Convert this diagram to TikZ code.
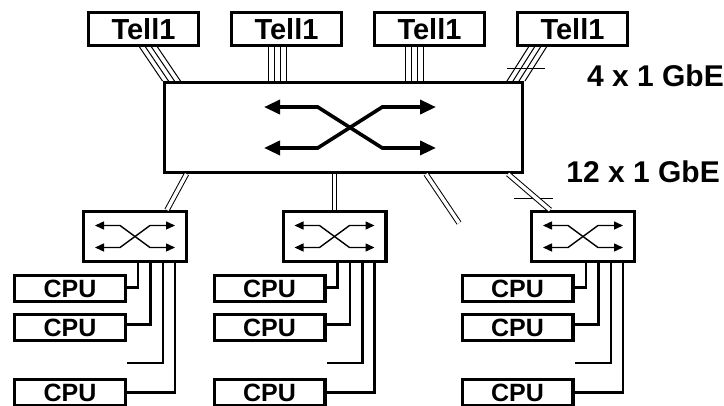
\documentclass[tikz,border=0pt]{standalone}
\usepackage{fontspec}
\setmainfont{Liberation Sans}
\usetikzlibrary{positioning,arrows.meta,calc}
\tikzset{
  tellbox/.style={draw, line width=3.4pt, minimum width=109.6pt, minimum height=32.6pt, inner sep=0pt, font=\fontsize{29}{29}\selectfont\bfseries},
  corebox/.style={draw, line width=3.4pt, minimum width=357.6pt, minimum height=89.6pt},
  swbox/.style={draw, line width=3.4pt, minimum width=102.6pt, minimum height=49.6pt},
  cpubox/.style={draw, line width=3.4pt, minimum width=110.6pt, minimum height=25.6pt, inner sep=0pt, font=\fontsize{25}{25}\selectfont\bfseries},
  gbelabel/.style={inner sep=0pt, font=\fontsize{30}{30}\selectfont\bfseries},
  fibre/.style={line width=1pt},
  uplink/.style={line width=1pt, double, double distance=3.5pt},
  cable/.style={line width=2.4pt},
  bigx/.style={<->, >={Triangle[length=16pt,width=14pt]}, line width=3.6pt},
  smallx/.style={<->, >={Triangle[length=9pt,width=8pt]}, line width=1.4pt}
}
\begin{document}
\begin{tikzpicture}[x=1pt, y=-1pt]
  \clip (0,0) rectangle (724,405);
  \useasboundingbox (0,0) rectangle (724,405);
  \node[tellbox] (tellA) at (143.5,29) {Tell1};
  \node[tellbox, right=30pt of tellA] (tellB) {Tell1};
  \node[tellbox, right=30pt of tellB] (tellC) {Tell1};
  \node[tellbox, right=30pt of tellC] (tellD) {Tell1};
  \node[corebox] (core) at (343.5,127.5) {};
  \node[swbox] (sw1) at (135,236.5) {};
  \node[swbox] (sw2) at (334.5,236.5) {};
  \node[swbox] (sw3) at (583,236.5) {};
  \node[cpubox] (cpuA1) at (70,288.5) {CPU};
  \node[cpubox, below=10pt of cpuA1] (cpuA2) {CPU};
  \node[cpubox, below=36pt of cpuA2] (cpuA4) {CPU};
  \node[cpubox] (cpuB1) at (269.5,288.5) {CPU};
  \node[cpubox, below=10pt of cpuB1] (cpuB2) {CPU};
  \node[cpubox, below=36pt of cpuB2] (cpuB4) {CPU};
  \node[cpubox] (cpuC1) at (517.5,288.5) {CPU};
  \node[cpubox, below=10pt of cpuC1] (cpuC2) {CPU};
  \node[cpubox, below=36pt of cpuC2] (cpuC4) {CPU};
  \node[gbelabel, anchor=east] (gbeTell) at (724,76) {4 x 1 GbE};
  \node[gbelabel, anchor=east] (gbeCpu) at (720,172) {12 x 1 GbE};
  \coordinate (open) at (459,223);
  \begin{scope}[shift={($(core.center)+(6.5,0)$)}, xscale=2.15, yscale=1.86]
    \draw[bigx] (-40,-11) -- (-15,-11) -- (15,11) -- (40,11);
    \draw[bigx] (-40,11) -- (-15,11) -- (15,-11) -- (40,-11);
  \end{scope}
  \foreach \s in {sw1,sw2,sw3} {
    \begin{scope}[shift={(\s.center)}]
      \draw[smallx] (-40,-11) -- (-15,-11) -- (15,11) -- (40,11);
      \draw[smallx] (-40,11) -- (-15,11) -- (15,-11) -- (40,-11);
    \end{scope}
  }
  \foreach \d in {-9,-3,3,9} {
    \draw[fibre] ([xshift=\d+5]tellA.south) -- ([xshift=\d-172]core.north);
    \draw[fibre] ([xshift=\d-9]tellB.south) -- ([xshift=\d-9]tellB.south |- core.north);
    \draw[fibre] ([xshift=\d-15]tellC.south) -- ([xshift=\d-15]tellC.south |- core.north);
    \draw[fibre] ([xshift=\d-35]tellD.south) -- ([xshift=\d+172.5]core.north);
  }
  \draw[fibre] (507,68) -- (545,68);
  \draw[fibre] (514,198) -- (553,198);
  \draw[uplink] ([xshift=-157pt]core.south) -- ([xshift=32pt]sw1.north);
  \draw[uplink] (sw2.north |- core.south) -- (sw2.north);
  \draw[uplink] ([xshift=82.5pt]core.south) -- (open);
  \draw[uplink] ([xshift=164.5pt]core.south) -- ([xshift=-33pt]sw3.north);
  \foreach \c/\s in {A/sw1,B/sw2,C/sw3} {
    \coordinate (stub\c) at ($(cpu\c2.east)+(0,35.5)$);
    \draw[cable] ([xshift=3pt]\s.south) |- ([yshift=1pt]cpu\c1.east);
    \draw[cable] ([xshift=15.5pt]\s.south) |- ([yshift=3pt]cpu\c2.east);
    \draw[cable] ([xshift=28pt]\s.south) |- (stub\c);
    \draw[cable] ([xshift=40pt]\s.south) |- (cpu\c4.east);
  }
\end{tikzpicture}
\end{document}
